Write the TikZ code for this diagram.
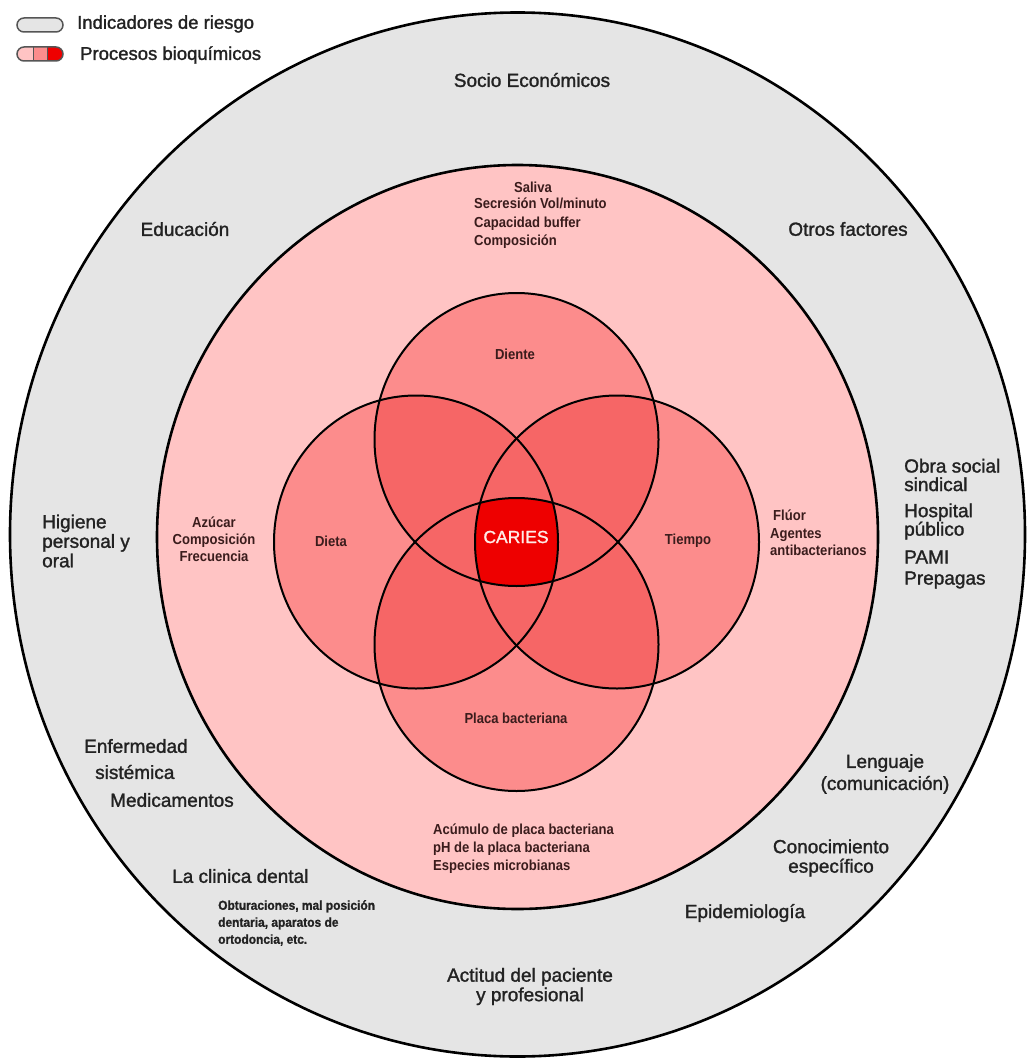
\documentclass[tikz,border=0pt]{standalone}
\usepackage{fontspec}
\setmainfont{Liberation Sans}
\newfontfamily\medf[FakeBold=1.4]{Liberation Sans}
\newfontfamily\condf[FakeStretch=0.9]{Liberation Sans}
\newfontfamily\tinyf[FakeStretch=0.92,FakeBold=1.2]{Liberation Sans}
\definecolor{ringgray}{HTML}{E5E5E5}
\definecolor{pinkbg}{HTML}{FFC4C4}
\definecolor{cone}{HTML}{FC8C8C}
\definecolor{ctwo}{HTML}{F66666}
\definecolor{cfour}{HTML}{EE0000}
\definecolor{txtdark}{HTML}{222222}
\definecolor{txtbrown}{HTML}{3A1C1C}
\definecolor{pillgray}{HTML}{555555}
\tikzset{
  big/.style={font=\medf\fontsize{19}{19.5}\selectfont, text=txtdark, inner sep=0pt},
  sml/.style={font=\condf\bfseries\fontsize{14.5}{18}\selectfont, text=txtbrown, inner sep=0pt},
  tiny/.style={font=\tinyf\bfseries\fontsize{13}{17}\selectfont, text=txtdark, inner sep=0pt},
  ring/.style={draw=black, line width=2.6pt},
  lens/.style={draw=black, line width=2pt},
}
\begin{document}
\begin{tikzpicture}[x=1pt,y=-1pt]
\useasboundingbox (0,0) rectangle (1028,1059);
\fill[white] (0,0) rectangle (1028,1059);
% coordinates
\coordinate (O) at (517.5,534.5);
\coordinate (P) at (517.5,537);
\coordinate (D) at (516.5,439.5);
\coordinate (B) at (516.5,644.5);
\coordinate (L) at (416,542);
\coordinate (R) at (617,542);
\def\rx{142pt}\def\ry{146.5pt}
% outer ring
\fill[ringgray] (O) ellipse [x radius=507.5pt, y radius=522pt];
\draw[ring] (O) ellipse [x radius=507.5pt, y radius=522pt];
% pink ring
\fill[pinkbg] (P) ellipse [x radius=360.5pt, y radius=372pt];
\draw[ring] (P) ellipse [x radius=360.5pt, y radius=372pt];
% single circles
\foreach \c in {D,B,L,R}{\fill[cone] (\c) ellipse [x radius=\rx, y radius=\ry];}
% pair overlaps
\foreach \a/\b in {D/L,D/R,B/L,B/R,D/B,L/R}{
  \begin{scope}
    \clip (\a) ellipse [x radius=\rx, y radius=\ry];
    \fill[ctwo] (\b) ellipse [x radius=\rx, y radius=\ry];
  \end{scope}}
% four overlap
\begin{scope}
  \clip (D) ellipse [x radius=\rx, y radius=\ry];
  \clip (B) ellipse [x radius=\rx, y radius=\ry];
  \clip (L) ellipse [x radius=\rx, y radius=\ry];
  \fill[cfour] (R) ellipse [x radius=\rx, y radius=\ry];
\end{scope}
\foreach \c in {D,B,L,R}{\draw[lens] (\c) ellipse [x radius=\rx, y radius=\ry];}
% legend
\fill[ringgray, rounded corners=7pt] (17,18) rectangle (63,32);
\draw[pillgray, line width=1.5pt, rounded corners=7pt] (17,18) rectangle (63,32);
\begin{scope}
  \clip[rounded corners=7pt] (17,47) rectangle (63,61);
  \fill[pinkbg] (17,47) rectangle (33,61);
  \fill[cone] (33,47) rectangle (47,61);
  \fill[cfour] (47,47) rectangle (63,61);
\end{scope}
\draw[pillgray, line width=1.5pt, rounded corners=7pt] (17,47) rectangle (63,61);
\draw[pillgray, line width=1pt] (33,47) -- (33,61) (47,47) -- (47,61);
\node[big, anchor=west, font=\medf\fontsize{18.5}{20}\selectfont] (leg1) at (77,24) {Indicadores de riesgo};
\node[big, anchor=west, font=\medf\fontsize{18.5}{20}\selectfont] (leg2) at (80,55) {Procesos bioquímicos};
% outer labels
\node[big] (socio) at (532,80) {Socio Económicos};
\node[big] (edu) at (185,229) {Educación};
\node[big] (otros) at (848,229) {Otros factores};
\node[big, align=left, anchor=west] (hig) at (42,541) {Higiene\\personal y\\oral};
\node[big, align=left, anchor=west, font=\medf\fontsize{19}{18.5}\selectfont] (obra) at (904,475) {Obra social\\sindical};
\node[big, align=left, anchor=west, font=\medf\fontsize{19}{18.5}\selectfont] (hosp) at (904,521.5) {Hospital\\público};
\node[big, anchor=west] (pami) at (904,557) {PAMI};
\node[big, anchor=west] (prep) at (904,580) {Prepagas};
\node[big, anchor=west] (enf) at (84,746) {Enfermedad};
\node[big, anchor=west] (sist) at (95,772) {sistémica};
\node[big, anchor=west] (med) at (110,800) {Medicamentos};
\node[big, anchor=west] (clin) at (172,876) {La clinica dental};
\node[tiny, align=left, anchor=west] (obt) at (218,923) {Obturaciones, mal posición\\dentaria, aparatos de\\ortodoncia, etc.};
\node[big, align=center] (act) at (530,986.5) {Actitud del paciente\\y profesional};
\node[big] (epi) at (745,913) {Epidemiología};
\node[big, align=center] (con) at (831,858) {Conocimiento\\específico};
\node[big, align=center, font=\medf\fontsize{19}{22}\selectfont] (len) at (885,774) {Lenguaje\\(comunicación)};
% pink ring labels
\node[sml] (sal) at (533,187) {Saliva};
\node[sml, align=left, anchor=north west, font=\condf\bfseries\fontsize{14.5}{18.5}\selectfont] (salx) at (474,198) {Secresión Vol/minuto\\Capacidad buffer\\Composición};
\node[sml, align=center, font=\condf\bfseries\fontsize{14.5}{17}\selectfont] (azu) at (214,539) {Azúcar\\Composición\\Frecuencia};
\node[sml, align=left, anchor=west, font=\condf\bfseries\fontsize{14.5}{17.5}\selectfont] (flu) at (770,533) {\hspace*{3pt}Flúor\\Agentes\\antibacterianos};
\node[sml, align=left, anchor=west] (acu) at (433,848.5) {Acúmulo de placa bacteriana\\pH de la placa bacteriana\\Especies microbianas};
% circle labels
\node[sml] (dte) at (515,354) {Diente};
\node[sml] (dta) at (331,541) {Dieta};
\node[sml] (tpo) at (688,541) {Tiempo};
\node[sml] (plc) at (516,718) {Placa bacteriana};
\node[inner sep=0pt, text={rgb,255:red,255;green,235;blue,230}, font=\medf\fontsize{17.5}{20}\selectfont] (car) at (516,537) {CARIES};
\end{tikzpicture}
\end{document}
